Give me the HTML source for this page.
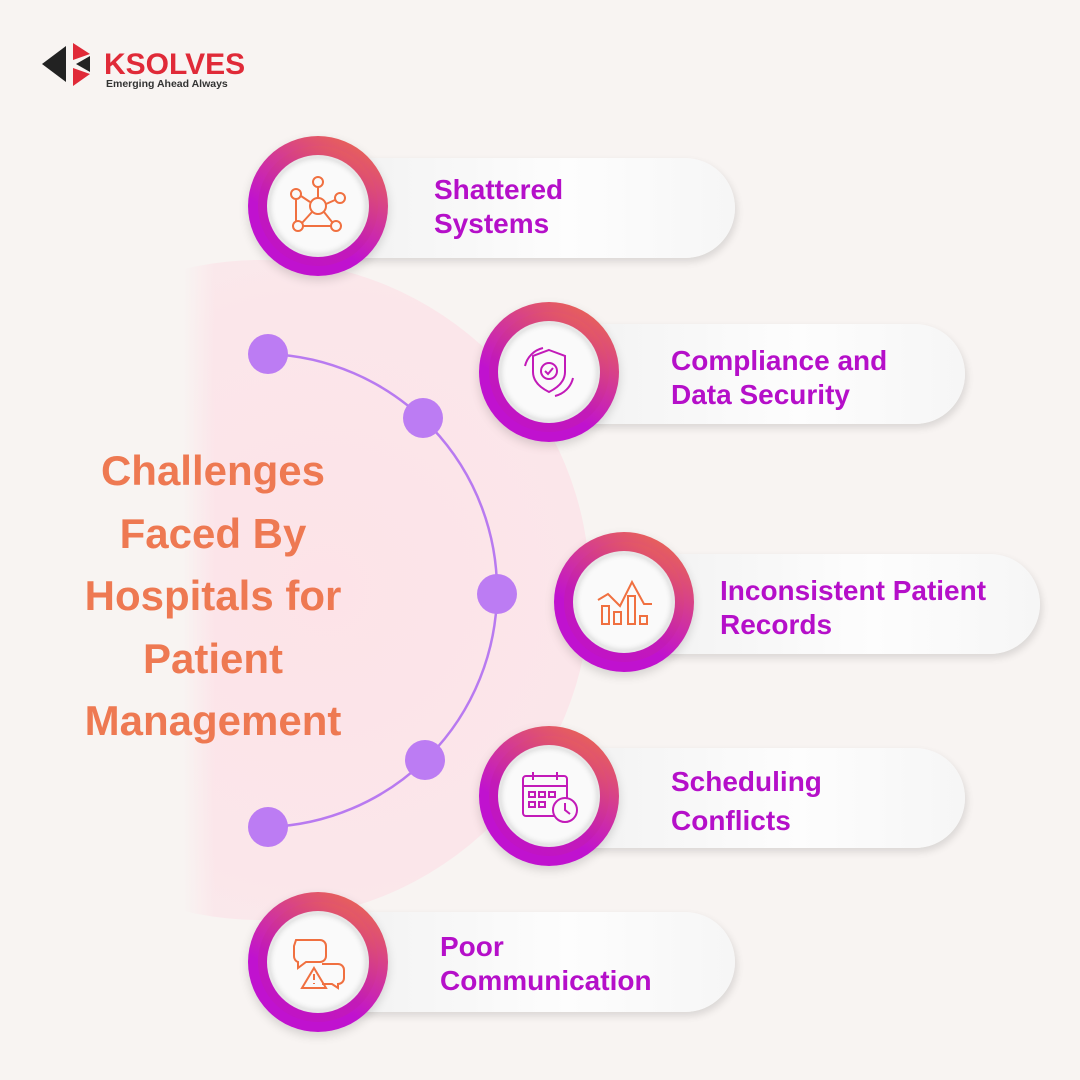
<!DOCTYPE html>
<html><head><meta charset="utf-8"><style>
body{margin:0;width:1080px;height:1080px;background:#f8f4f2;position:relative;overflow:hidden;font-family:"Liberation Sans",sans-serif}
.bg{position:absolute;left:-70px;top:260px;width:660px;height:660px;border-radius:50%;background:radial-gradient(circle at 60% 50%,#fde3e8 0%,#fbe6ea 55%,#f9eeee 100%)}
.fade{position:absolute;left:0;top:200px;width:215px;height:760px;background:linear-gradient(90deg,#f8f4f2 85%,rgba(248,244,242,0))}
.pill{position:absolute;height:100px;border-radius:50px;background:linear-gradient(90deg,#f1f1f1,#fdfdfd 60%,#f6f6f6);box-shadow:2px 4px 8px rgba(0,0,0,.12)}
.c{position:absolute;width:140px;height:140px;border-radius:50%;background:linear-gradient(30deg,#c012cf 35%,#f0733f 100%);box-shadow:0 4px 10px rgba(0,0,0,.15)}
.c2{position:absolute;left:10px;top:10px;width:120px;height:120px;border-radius:50%;background:linear-gradient(210deg,#ee6d4a,#c21ab8 60%,#c010cc)}
.c3{position:absolute;left:22px;top:22px;width:96px;height:96px;border-radius:50%;background:#fafafa;box-shadow:inset 0 0 6px rgba(0,0,0,.15),0 0 0 3px #e6e6e6}
.t{position:absolute;color:#b50fc9;font-weight:bold;font-size:28px;line-height:34px}
.title{position:absolute;left:40px;width:346px;top:440px;text-align:center;color:#ee7952;font-weight:bold;font-size:42px;line-height:62.5px}
svg.i{position:absolute;left:24px;top:24px}
</style></head><body>
<div class="bg"></div><div class="fade"></div>
<svg style="position:absolute;left:0;top:0" width="1080" height="1080">
<path d="M268 354 A237 237 0 0 1 497 594 A237 237 0 0 1 268 827" fill="none" stroke="#b87af0" stroke-width="2.5"/>
<g fill="#bc7cf3"><circle cx="268" cy="354" r="20"/><circle cx="423" cy="418" r="20"/><circle cx="497" cy="594" r="20"/><circle cx="425" cy="760" r="20"/><circle cx="268" cy="827" r="20"/></g>
<polygon points="42,64 66,46 66,82" fill="#222"/>
<polygon points="73,43 90,54 73,60" fill="#e02a38"/>
<polygon points="73,68 90,74 73,86" fill="#e02a38"/>
<polygon points="76,64 90,56 90,72" fill="#222"/>
<text x="104" y="74" font-family="Liberation Sans" font-weight="bold" font-size="30" fill="#e02a38">KSOLVES</text>
<text x="106" y="87" font-family="Liberation Sans" font-weight="bold" font-size="10.5" fill="#333">Emerging Ahead Always</text>
</svg>
<div class="title">Challenges<br>Faced By<br>Hospitals for<br>Patient<br>Management</div>

<div class="pill" style="left:318px;top:158px;width:417px"></div>
<div class="c" style="left:248px;top:136px"><div class="c2"></div><div class="c3"></div>
<svg class="i" width="92" height="92" viewBox="0 0 92 92" fill="none" stroke="#f07040" stroke-width="2"><circle cx="46" cy="46" r="8"/><circle cx="46" cy="22" r="5"/><circle cx="24" cy="34" r="5"/><circle cx="68" cy="38" r="5"/><circle cx="26" cy="66" r="5"/><circle cx="64" cy="66" r="5"/><path d="M46 27V38M29 36L38 42M63 40L54 44M30 63L40 52M60 62L52 52M24 39V61M31 66H59"/></svg></div>
<div class="t" style="left:434px;top:173px">Shattered<br>Systems</div>

<div class="pill" style="left:549px;top:324px;width:416px"></div>
<div class="c" style="left:479px;top:302px"><div class="c2"></div><div class="c3"></div>
<svg class="i" width="92" height="92" viewBox="0 0 92 92" fill="none" stroke="#c21ab8" stroke-width="2"><path d="M46 24L62 30V46C62 56 54 62 46 66C38 62 30 56 30 46V30Z"/><circle cx="46" cy="45" r="8"/><path d="M42 45L45 48L50 42M22 40A24 24 0 0 1 40 22M70 52A24 24 0 0 1 52 70"/></svg></div>
<div class="t" style="left:671px;top:344px">Compliance and<br>Data Security</div>

<div class="pill" style="left:624px;top:554px;width:416px"></div>
<div class="c" style="left:554px;top:532px"><div class="c2"></div><div class="c3"></div>
<svg class="i" width="92" height="92" viewBox="0 0 92 92" fill="none" stroke="#f07040" stroke-width="2"><rect x="24" y="50" width="7" height="18"/><rect x="36" y="56" width="7" height="12"/><rect x="50" y="40" width="7" height="28"/><rect x="62" y="60" width="7" height="8"/><path d="M20 44L30 38L42 50L54 26L66 48L74 48"/></svg></div>
<div class="t" style="left:720px;top:574px">Inconsistent Patient<br>Records</div>

<div class="pill" style="left:549px;top:748px;width:416px"></div>
<div class="c" style="left:479px;top:726px"><div class="c2"></div><div class="c3"></div>
<svg class="i" width="92" height="92" viewBox="0 0 92 92" fill="none" stroke="#c21ab8" stroke-width="2"><rect x="20" y="26" width="44" height="40" rx="3"/><path d="M20 36H64M30 22V30M54 22V30"/><rect x="26" y="42" width="6" height="5"/><rect x="36" y="42" width="6" height="5"/><rect x="46" y="42" width="6" height="5"/><rect x="26" y="52" width="6" height="5"/><rect x="36" y="52" width="6" height="5"/><circle cx="62" cy="60" r="12" fill="#fafafa"/><path d="M62 53V60L67 64"/></svg></div>
<div class="t" style="left:671px;top:762px;line-height:39px">Scheduling<br>Conflicts</div>

<div class="pill" style="left:318px;top:912px;width:417px"></div>
<div class="c" style="left:248px;top:892px"><div class="c2"></div><div class="c3"></div>
<svg class="i" width="92" height="92" viewBox="0 0 92 92" fill="none" stroke="#f07040" stroke-width="2"><path d="M24 24H48A6 6 0 0 1 54 30V40A6 6 0 0 1 48 46H34L26 52V46A6 6 0 0 1 22 40V30Z"/><path d="M50 48H66A6 6 0 0 1 72 54V62A6 6 0 0 1 66 68V72L60 68H50"/><path d="M42 52L54 72H30Z"/><path d="M42 58V64M42 67V68"/></svg></div>
<div class="t" style="left:440px;top:930px">Poor<br>Communication</div>
</body></html>
